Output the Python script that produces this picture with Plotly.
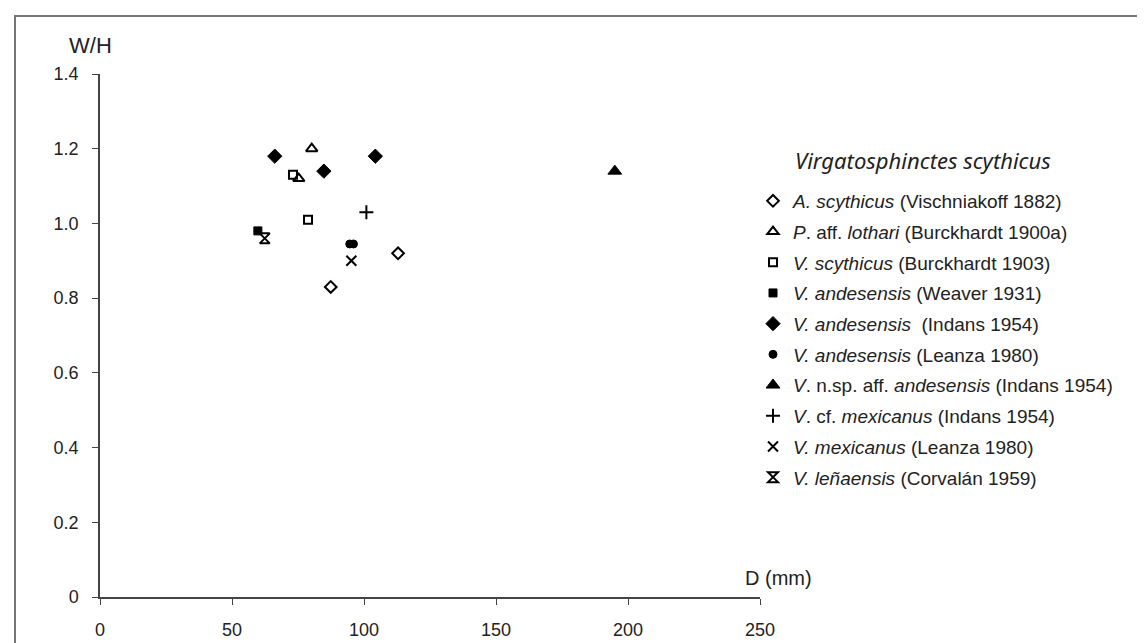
import plotly.graph_objects as go

# ---- data ----
series_names = [
    "<i>A. scythicus</i> (Vischniakoff 1882)",
    "<i>P</i>. aff. <i>lothari</i> (Burckhardt 1900a)",
    "<i>V. scythicus</i> (Burckhardt 1903)",
    "<i>V. andesensis</i> (Weaver 1931)",
    "<i>V. andesensis</i>&nbsp; (Indans 1954)",
    "<i>V. andesensis</i> (Leanza 1980)",
    "<i>V</i>. n.sp. aff. <i>andesensis</i> (Indans 1954)",
    "<i>V</i>. cf. <i>mexicanus</i> (Indans 1954)",
    "<i>V. mexicanus</i> (Leanza 1980)",
    "<i>V. leñaensis</i> (Corvalán 1959)",
]
d_values = [
    [87.4, 112.9],
    [80.2, 75.3],
    [73.1, 78.8],
    [59.8],
    [66.2, 84.8, 104.3],
    [94.6, 96.0],
    [195.0],
    [100.9],
    [95.2],
    [62.4],
]
wh_values = [
    [0.83, 0.92],
    [1.20, 1.12],
    [1.13, 1.01],
    [0.98],
    [1.18, 1.14, 1.18],
    [0.945, 0.945],
    [1.14],
    [1.03],
    [0.90],
    [0.96],
]
x_ticks = [0, 50, 100, 150, 200, 250]
y_ticks = [0, 0.2, 0.4, 0.6, 0.8, 1.0, 1.2, 1.4]
y_tick_labels = ["0", "0.2", "0.4", "0.6", "0.8", "1.0", "1.2", "1.4"]
legend_title = "Virgatosphinctes scythicus"

# ---- styles ----
symbols = ["diamond-open", "triangle-up-open", "square-open", "square", "diamond",
           "circle", "triangle-up", "cross-thin-open", "x-thin-open", "hourglass-open"]
sizes = [9, 10, 8, 8, 11, 8, 12, 10, 10, 10]
lw = [2, 2, 2, 1, 1, 1, 1, 2, 2, 2]

W, H = 1145, 643
L, R, T, B = 92, 752, 66, 589

fig = go.Figure()
for i, name in enumerate(series_names):
    fig.add_trace(go.Scatter(
        x=d_values[i], y=wh_values[i], mode="markers", name=name,
        legendgroup=f"g{i}",
        marker=dict(symbol=symbols[i], size=sizes[i], color="black",
                    line=dict(color="black", width=lw[i])),
    ))

pw, ph = R - L, B - T
def px(xp):
    return (xp - L) / pw
def py(yp):
    return (B - yp) / ph

TXT = "#222"
fig.update_layout(
    width=W, height=H,
    margin=dict(l=L, r=W - R, t=T, b=H - B, autoexpand=False),
    paper_bgcolor="white", plot_bgcolor="white",
    font=dict(family="Liberation Sans, Arial, sans-serif", size=18, color=TXT),
    showlegend=True,
    legend=dict(
        x=px(745), y=py(174), xanchor="left", yanchor="top",
        font=dict(size=19, color=TXT),
        tracegroupgap=3, itemwidth=30, bgcolor="rgba(0,0,0,0)",
    ),
    xaxis=dict(
        range=[0, 250], tickvals=x_ticks, showgrid=False, zeroline=False,
        showline=True, linecolor="#444", linewidth=1.5,
        ticks="outside", ticklen=6, tickcolor="#444", tickwidth=1.2,
        tickfont=dict(size=18, color=TXT), ticklabelstandoff=10,
    ),
    yaxis=dict(
        range=[0, 1.4], tickvals=y_ticks, ticktext=y_tick_labels,
        showgrid=False, zeroline=False,
        showline=True, linecolor="#444", linewidth=1.5,
        ticks="outside", ticklen=6, tickcolor="#444", tickwidth=1.2,
        tickfont=dict(size=18, color=TXT), ticklabelstandoff=10,
    ),
    annotations=[
        dict(text="W/H", xref="paper", yref="paper", x=px(59), y=py(37),
             xanchor="left", yanchor="middle", showarrow=False,
             font=dict(size=22, color=TXT)),
        dict(text="D (mm)", xref="paper", yref="paper", x=px(735), y=py(570),
             xanchor="left", yanchor="middle", showarrow=False,
             font=dict(size=20, color=TXT)),
        dict(text="<i>" + legend_title + "</i>", xref="paper", yref="paper",
             x=px(785), y=py(152), xanchor="left", yanchor="middle", showarrow=False,
             font=dict(family="Noto Sans, Open Sans, sans-serif", size=22, color=TXT)),
    ],
    shapes=[
        dict(type="rect", xref="paper", yref="paper",
             x0=px(7), x1=px(1160), y0=py(660), y1=py(8),
             line=dict(color="#777", width=2), fillcolor="rgba(0,0,0,0)", layer="below"),
    ],
)

fig.write_html("out.html")
